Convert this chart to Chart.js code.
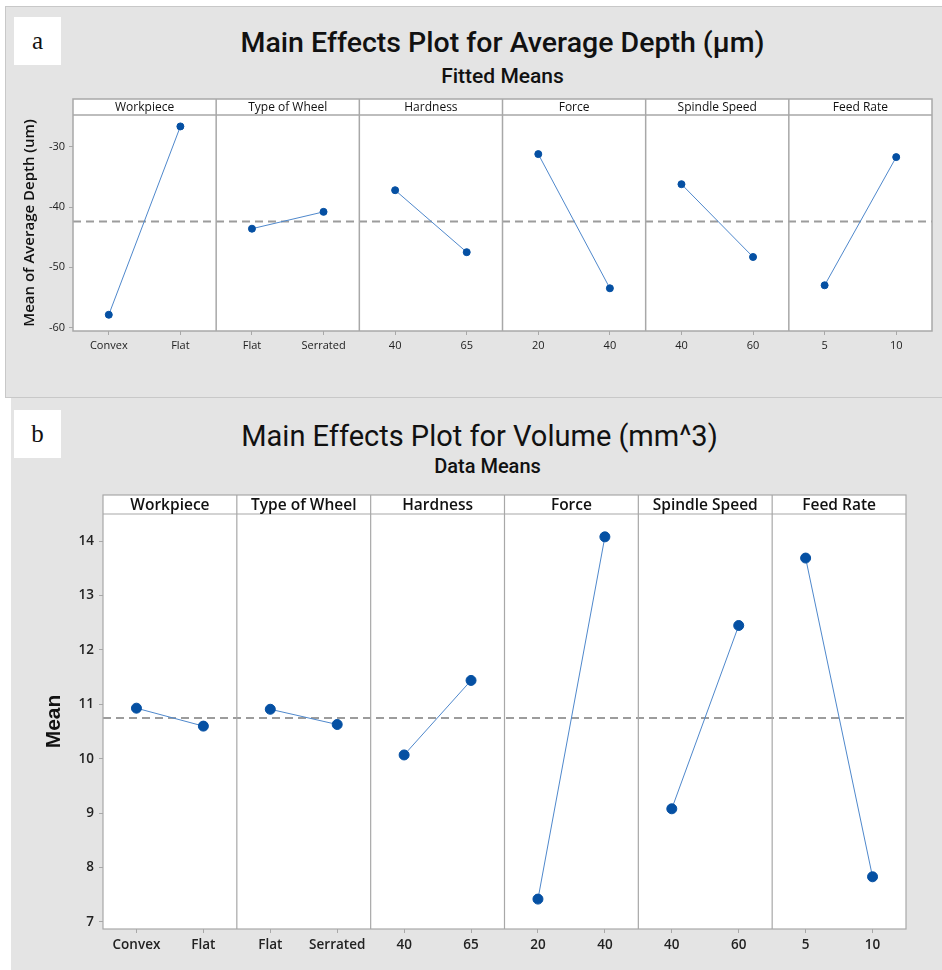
<!DOCTYPE html>
<html>
<head>
<meta charset="utf-8">
<script src="https://cdn.jsdelivr.net/npm/chart.js@4.4.1/dist/chart.umd.min.js"></script>
<style>
  body { margin: 0; width: 942px; height: 970px; position: relative; overflow: hidden; background: #fff; }
  .panel { position: absolute; background: #e4e4e4; box-sizing: border-box; }
  .tag { position: absolute; background: #fff; width: 47px; height: 48px; line-height: 48px; text-align: center;
         font-family: "Liberation Serif", serif; font-size: 25px; color: #111; }
  .title { position: absolute; text-align: center; font-family: Roboto, sans-serif; color: #111; white-space: nowrap; }
  canvas { position: absolute; left: 0; }
</style>
</head>
<body>
<div class="panel" style="left:5px;top:6px;width:940px;height:392px;border:1px solid #c8c8c8;"></div>
<div class="panel" style="left:11px;top:398px;width:931px;height:572px;"></div>

<div class="tag" style="left:14px;top:17px;">a</div>
<div class="tag" style="left:14px;top:410px;">b</div>

<div class="title" style="left:73px;width:859px;top:28px;font-size:28.5px;line-height:30px;font-weight:500;">Main Effects Plot for Average Depth (µm)</div>
<div class="title" style="left:73px;width:859px;top:64px;font-size:21px;line-height:24px;font-weight:500;">Fitted Means</div>
<div class="title" style="left:14px;width:931px;top:421px;font-size:29px;line-height:30px;">Main Effects Plot for Volume (mm^3)</div>
<div class="title" style="left:22px;width:931px;top:454px;font-size:20px;line-height:24px;font-weight:500;">Data Means</div>

<canvas id="depthChart" width="942" height="300" style="top:90px;"></canvas>
<canvas id="volumeChart" width="942" height="490" style="top:480px;"></canvas>

<script>
// factors and their two levels
const factors = ["Workpiece", "Type of Wheel", "Hardness", "Force", "Spindle Speed", "Feed Rate"];
const levels = [["Convex", "Flat"], ["Flat", "Serrated"], ["40", "65"], ["20", "40"], ["40", "60"], ["5", "10"]];

// (a) average depth, fitted means
const depthMeans = [[-57.9, -26.6], [-43.6, -40.8], [-37.2, -47.5], [-31.2, -53.5], [-36.2, -48.3], [-53.0, -31.7]];
const depthGrandMean = -42.4;
const depthTicks = [-60, -50, -40, -30];

// (b) volume, data means
const volumeMeans = [[10.93, 10.6], [10.91, 10.63], [10.07, 11.44], [7.42, 14.08], [9.08, 12.45], [13.69, 7.83]];
const volumeGrandMean = 10.75;
const volumeTicks = [7, 8, 9, 10, 11, 12, 13, 14];

const dotBlue = "#0550a3";
const lineBlue = "#4f88cc";
const frameGray = "#a8a8a8";

// white panel, header strip, separators and grand mean line
const facetPlugin = {
  id: "facets",
  beforeDraw(chart, args, opts) {
    const { ctx, chartArea: a } = chart;
    ctx.save();
    ctx.fillStyle = "#fff";
    ctx.fillRect(a.left, a.top - opts.headerHeight, a.right - a.left, a.bottom - a.top + opts.headerHeight);
    ctx.restore();
  },
  beforeDatasetsDraw(chart, args, opts) {
    const { ctx, chartArea: a, scales } = chart;
    const x = scales.x;
    const top = a.top - opts.headerHeight;
    ctx.save();

    // grand mean
    const ym = scales.y.getPixelForValue(opts.mean);
    ctx.strokeStyle = "#9c9c9c";
    ctx.lineWidth = 2;
    ctx.setLineDash([8, 5]);
    ctx.beginPath();
    ctx.moveTo(a.left, ym);
    ctx.lineTo(a.right, ym);
    ctx.stroke();
    ctx.setLineDash([]);

    // frame
    ctx.strokeStyle = frameGray;
    ctx.lineWidth = opts.frameWidth;
    ctx.strokeRect(a.left, top, a.right - a.left, a.bottom - top);
    ctx.beginPath();
    ctx.moveTo(a.left, a.top);
    ctx.lineTo(a.right, a.top);
    for (let i = 1; i < factors.length; i++) {
      const sx = (x.getPixelForValue(2 * i - 1) + x.getPixelForValue(2 * i)) / 2;
      ctx.moveTo(sx, top);
      ctx.lineTo(sx, a.bottom);
    }
    ctx.stroke();

    // factor names
    ctx.fillStyle = "#111";
    ctx.font = opts.headerFont;
    ctx.textAlign = "center";
    ctx.textBaseline = "middle";
    factors.forEach((name, i) => {
      const cx = (x.getPixelForValue(2 * i) + x.getPixelForValue(2 * i + 1)) / 2;
      ctx.fillText(name, cx, top + opts.headerHeight / 2 + 1);
    });
    ctx.restore();
  },
};

function buildDatasets(means, radius) {
  return means.map((pair, i) => {
    const data = new Array(factors.length * 2).fill(null);
    data[2 * i] = pair[0];
    data[2 * i + 1] = pair[1];
    return {
      label: factors[i],
      data: data,
      borderColor: lineBlue,
      borderWidth: 1,
      pointBackgroundColor: dotBlue,
      pointBorderColor: dotBlue,
      pointRadius: radius,
      pointHoverRadius: radius,
      spanGaps: false,
    };
  });
}

function makeChart(id, cfg) {
  const canvas = document.getElementById(id);
  return new Chart(canvas.getContext("2d"), {
    type: "line",
    data: { labels: levels.flat(), datasets: buildDatasets(cfg.means, cfg.radius) },
    plugins: [facetPlugin],
    options: {
      responsive: false,
      animation: false,
      layout: { padding: { top: cfg.areaTop, right: canvas.width - cfg.areaRight, bottom: 0, left: 0 } },
      plugins: {
        legend: { display: false },
        tooltip: { enabled: false },
        facets: { headerHeight: cfg.headerHeight, headerFont: cfg.headerFont, mean: cfg.mean, frameWidth: cfg.frameWidth },
      },
      scales: {
        x: {
          type: "category",
          offset: true,
          grid: { offset: false, drawOnChartArea: false, drawTicks: true, tickLength: 4, color: frameGray },
          border: { display: false },
          ticks: { color: "#222", padding: cfg.xPad, font: cfg.tickFont, autoSkip: false, maxRotation: 0 },
          afterFit: (s) => { s.height = canvas.height - cfg.areaBottom; },
        },
        y: {
          min: cfg.range[0],
          max: cfg.range[1],
          afterBuildTicks: (s) => { s.ticks = cfg.ticks.map((v) => ({ value: v })); },
          grid: { drawOnChartArea: false, drawTicks: true, tickLength: 4, color: frameGray },
          border: { display: false },
          ticks: { color: "#222", padding: cfg.yPad, font: cfg.tickFont },
          title: { display: true, text: cfg.yTitle, color: "#111", font: cfg.yTitleFont, padding: { top: cfg.yTitleOffset, bottom: 0 } },
          afterFit: (s) => { s.width = cfg.areaLeft; },
        },
      },
    },
  });
}

makeChart("depthChart", {
  means: depthMeans,
  mean: depthGrandMean,
  ticks: depthTicks,
  range: [-60.6, -24.7],
  radius: 3.5,
  areaLeft: 73,
  areaRight: 932,
  areaTop: 25,
  areaBottom: 241,
  headerHeight: 16,
  frameWidth: 1.5,
  headerFont: "500 12px 'Open Sans', sans-serif",
  tickFont: { family: "'Open Sans', sans-serif", size: 11, weight: "500" },
  xPad: 4,
  yPad: 4,
  yTitle: "Mean of Average Depth (um)",
  yTitleFont: { family: "'Open Sans', sans-serif", size: 15, weight: "600" },
  yTitleOffset: 21,
});

makeChart("volumeChart", {
  means: volumeMeans,
  mean: volumeGrandMean,
  ticks: volumeTicks,
  range: [6.87, 14.5],
  radius: 5,
  areaLeft: 103,
  areaRight: 906,
  areaTop: 34,
  areaBottom: 449,
  headerHeight: 19,
  frameWidth: 1.2,
  headerFont: "600 15.5px 'Open Sans', sans-serif",
  tickFont: { family: "'Open Sans', sans-serif", size: 13.5, weight: "600" },
  xPad: 4,
  yPad: 5,
  yTitle: "Mean",
  yTitleFont: { family: "'Liberation Sans', Arial, sans-serif", size: 21, weight: "bold" },
  yTitleOffset: 42,
});
</script>
</body>
</html>
